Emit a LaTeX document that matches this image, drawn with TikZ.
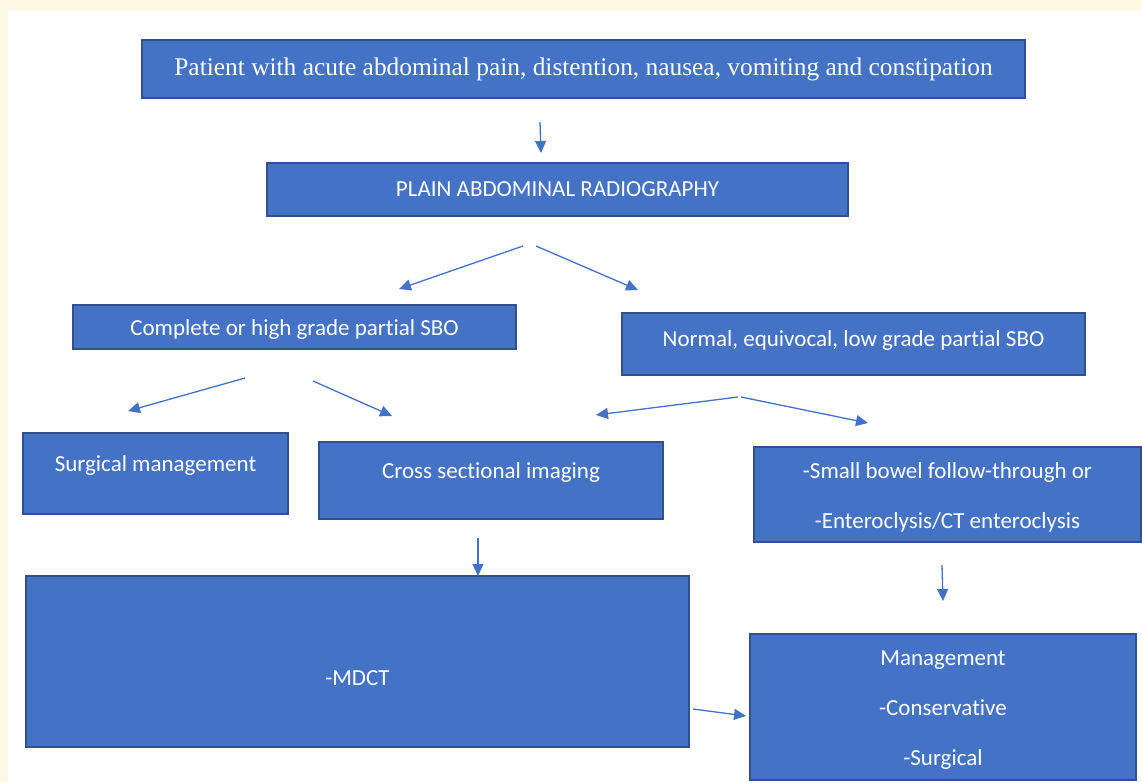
\documentclass[tikz,border=0pt]{standalone}
\usepackage{fontspec}
\setmainfont{Carlito}[Ligatures=NoCommon]
\newfontfamily\timesfont{Liberation Serif}
\usetikzlibrary{arrows.meta}
\definecolor{boxblue}{HTML}{4472C4}
\definecolor{boxedge}{HTML}{2F528F}
\definecolor{cream}{HTML}{FFF9E6}
\tikzset{
  flowbox/.style={draw=boxedge, line width=1.5pt, fill=boxblue, text=white,
    inner sep=0pt, align=center, font=\fontsize{23}{50}\selectfont},
  flowarrow/.style={draw=boxblue, line width=1.3pt,
    -{Triangle[length=12pt,width=11pt]}}
}
\newcommand{\shifttext}[2]{\raisebox{#1}[\height][\depth]{#2}}
\begin{document}
\begin{tikzpicture}[x=1pt,y=-1pt]
	\useasboundingbox (0,0) rectangle (1142,782);
	\fill[cream] (0,0) rectangle (1142,782);
	\fill[white] (8,11) rectangle (1142,782);
	% boxes
	\node[flowbox, minimum width=883pt, minimum height=58pt, font=\timesfont\fontsize{25.4}{30}\selectfont] (patient) at (583.5,69) {Patient with acute abdominal pain, distention, nausea, vomiting and constipation};
	\node[flowbox, minimum width=581pt, minimum height=53pt] (plain) at (557.5,189.5) {PLAIN ABDOMINAL RADIOGRAPHY};
	\node[flowbox, minimum width=443pt, minimum height=44pt] (complete) at (294.5,327) {\shifttext{-2pt}{Complete or high grade partial SBO}};
	\node[flowbox, minimum width=463pt, minimum height=62pt] (normal) at (853.5,344) {\shifttext{4pt}{Normal, equivocal, low grade partial SBO}};
	\node[flowbox, minimum width=265pt, minimum height=81pt] (surgical) at (155.5,473.5) {\shifttext{8pt}{Surgical management}};
	\node[flowbox, minimum width=344pt, minimum height=77pt] (cross) at (491,480.5) {\shifttext{8pt}{Cross sectional imaging}};
	\node[flowbox, minimum width=387pt, minimum height=95pt] (followup) at (947.5,494.5) {\shifttext{-3pt}{-Small bowel follow-through or}\\\shifttext{-3pt}{-Enteroclysis/CT enteroclysis}};
	\node[flowbox, minimum width=663pt, minimum height=171pt] (mdct) at (357.5,661.5) {\shifttext{-17pt}{-MDCT}};
	\node[flowbox, minimum width=386pt, minimum height=146pt] (manage) at (943,707) {\shifttext{-3pt}{Management}\\\shifttext{-3pt}{-Conservative}\\\shifttext{-3pt}{-Surgical}};
	% arrow ends
	\coordinate (a1s) at (540,122);   \coordinate (a1e) at (541,153);
	\coordinate (a2s) at (523,246);   \coordinate (a2e) at (399,289);
	\coordinate (a3s) at (536,246);   \coordinate (a3e) at (638,290);
	\coordinate (a4s) at (245,378);   \coordinate (a4e) at (128,411);
	\coordinate (a5s) at (313,381);   \coordinate (a5e) at (392,416);
	\coordinate (a6s) at (738,397);   \coordinate (a6e) at (596,415);
	\coordinate (a7s) at (741,397);   \coordinate (a7e) at (868,423);
	\coordinate (a8s) at (478,538);   \coordinate (a8e) at (478,576);
	\coordinate (a9s) at (942,565);   \coordinate (a9e) at (943,601);
	\coordinate (a10s) at (693,709);  \coordinate (a10e) at (746,716);
	% arrows
	\foreach \n in {1,...,10}
		\draw[flowarrow] (a\n s) -- (a\n e);
\end{tikzpicture}
\end{document}
